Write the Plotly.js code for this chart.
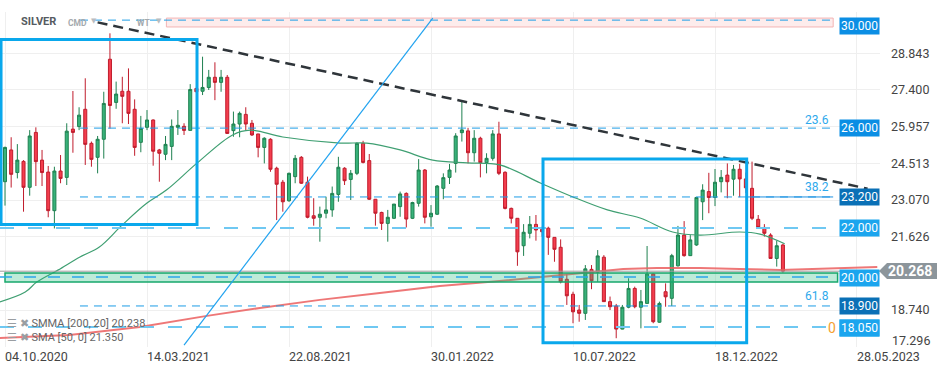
<!DOCTYPE html>
<html><head><meta charset="utf-8">
<script src="https://cdn.plot.ly/plotly-3.0.1.min.js"></script>
<style>body{margin:0;background:#fff}#chart{width:949px;height:370px}</style>
</head><body><div id="chart"></div>
<script>
// ---------- DATA (weekly SILVER candles, first week 04.10.2020) ----------
const firstWeek = '2020-10-04';
const openV = [23.79,25.04,24.15,24.59,23.57,25.73,24.64,24.17,22.65,24.21,23.96,25.86,25.96,26.64,25.30,24.75,25.46,28.61,26.91,27.35,
27.35,26.64,25.34,25.93,26.22,25.04,24.87,25.18,25.93,25.97,25.81,27.46,27.35,27.50,27.90,27.70,27.90,25.80,26.06,26.44,
26.09,25.67,25.14,25.46,24.32,23.77,23.04,23.99,24.75,23.77,22.45,22.39,22.55,22.68,23.29,24.32,23.88,24.12,25.30,24.62,
23.10,22.58,22.15,22.35,22.81,23.33,22.35,22.94,24.25,22.41,22.51,23.53,23.96,24.51,25.72,25.79,24.93,25.50,24.54,24.71,
25.67,24.16,22.74,22.35,21.27,21.76,22.11,21.92,21.96,21.60,21.21,19.95,19.36,18.74,18.61,20.34,20.23,20.82,19.07,18.90,
17.99,18.85,19.59,18.85,19.00,20.16,18.26,19.46,19.20,20.48,21.69,20.88,21.30,23.00,23.40,23.17,23.79,24.05,23.89,24.28,
23.90,23.53,22.31,21.99,21.69,20.77,21.30];
const highV = [25.17,25.54,25.27,24.64,25.82,25.93,25.04,24.41,24.38,24.84,26.09,27.36,26.72,27.86,25.37,25.59,27.33,29.63,27.73,27.92,
28.25,27.03,26.38,26.61,26.24,25.08,25.59,26.24,26.61,26.09,27.63,27.53,28.71,28.19,28.49,28.19,27.99,26.55,26.55,26.72,
26.22,25.67,25.54,25.50,24.38,23.86,24.15,24.84,24.80,23.99,23.14,22.81,23.20,23.60,24.77,24.36,24.25,25.34,25.40,24.88,
23.11,22.61,22.68,22.91,23.40,23.37,23.00,24.68,24.29,22.87,23.66,24.12,24.49,25.70,26.94,25.91,25.82,25.56,24.91,25.82,
26.15,24.20,22.77,22.35,22.12,22.44,22.48,22.02,22.02,21.60,21.52,20.16,19.46,18.94,20.51,20.51,21.10,20.90,19.27,18.98,
18.94,19.99,19.66,19.53,21.26,20.18,19.07,19.79,20.95,22.05,22.24,21.69,23.17,23.69,24.14,24.29,24.25,24.51,24.45,24.49,
24.15,24.58,22.48,22.12,21.76,21.47,21.35];
const lowV = [22.85,23.56,23.92,22.61,23.24,23.62,23.62,22.39,21.95,23.73,23.66,24.93,25.82,24.45,24.38,24.12,24.70,25.88,26.66,26.09,
26.06,24.81,24.95,25.82,24.42,23.79,24.64,24.64,25.63,25.63,25.81,27.32,27.20,27.40,27.00,27.33,25.67,25.56,25.54,25.82,
25.59,24.75,24.51,24.18,22.28,22.61,23.00,23.73,23.70,22.35,22.06,21.43,22.35,22.41,23.00,23.66,23.07,24.05,24.51,23.07,
22.06,21.89,21.43,22.32,22.41,21.99,22.32,22.81,22.15,22.02,22.48,23.10,23.70,24.15,25.37,24.51,24.58,23.96,24.12,24.62,
24.05,22.70,22.15,20.48,20.87,21.56,21.47,21.63,20.91,20.64,19.79,18.94,18.22,18.28,18.35,19.56,19.85,19.07,18.74,17.63,
17.98,18.81,18.81,18.02,19.00,18.22,18.24,18.87,18.90,20.45,20.84,20.87,21.27,22.28,22.55,22.83,23.37,23.14,23.24,23.18,
23.35,22.28,21.95,21.63,20.77,20.45,20.21];
const closeV = [25.14,24.08,24.64,23.57,25.59,24.58,24.15,22.65,24.21,23.92,25.78,25.73,26.41,25.26,24.67,25.46,26.87,26.79,27.24,27.15,
26.48,25.14,25.89,26.22,24.99,24.91,25.26,25.97,26.01,25.81,27.42,27.33,27.50,27.90,27.70,27.90,25.69,26.06,26.48,26.06,
25.63,25.14,25.50,24.28,23.69,23.00,24.12,24.71,23.73,22.39,22.35,22.51,22.68,23.33,24.36,23.83,24.12,25.30,24.55,23.10,
22.55,22.15,22.39,22.91,23.31,22.32,22.97,24.25,22.39,22.55,23.62,23.95,24.25,25.59,25.83,24.93,25.50,24.54,24.71,25.67,
24.12,22.74,22.35,21.03,21.80,22.11,21.89,21.82,21.60,21.13,19.85,19.30,18.67,18.61,20.36,19.89,20.87,19.07,18.87,17.99,
18.85,19.59,18.87,19.07,20.16,18.28,19.00,19.26,20.88,21.69,20.88,21.50,23.17,23.46,23.17,23.77,23.96,23.79,24.28,23.90,
23.55,22.35,21.99,21.76,20.77,21.27,20.27];

// SMA [50, 0] (green)
const smaDates  = ['2020-09-28','2020-10-27','2020-11-09','2020-12-03','2020-12-28','2021-01-19','2021-02-14','2021-03-14','2021-04-05','2021-05-10','2021-06-19','2021-07-09','2021-08-15','2021-10-19','2021-11-18','2021-12-26','2022-02-01','2022-03-12','2022-04-18','2022-06-03','2022-07-10','2022-08-18','2022-09-24','2022-10-31','2022-12-01','2023-01-15','2023-02-07','2023-03-07'];
const smaValues = [19.06,19.45,19.84,20.31,20.83,21.22,22.09,22.95,23.46,24.53,25.63,25.82,25.55,25.31,25.31,25.04,24.64,24.53,24.45,23.74,23.19,22.68,22.36,21.81,21.69,21.81,21.73,21.35];
// SMMA [200, 20] (red)
const smmaDates  = ['2020-09-28','2020-12-16','2021-03-06','2021-05-21','2021-07-20','2021-09-26','2021-12-03','2022-02-09','2022-04-18','2022-06-03','2022-07-18','2022-09-05','2022-10-13','2022-12-01','2023-01-15','2023-03-02','2023-06-20'];
const smmaValues = [17.64,17.76,18.07,18.51,18.82,19.14,19.41,19.69,19.88,20.04,20.20,20.35,20.39,20.39,20.35,20.32,20.43];

// price levels drawn on the chart
const levelText   = ['30.000','26.000','23.200','22.000','20.000','18.900','18.050'];
const levelValue  = [30.15, 25.90, 23.19, 21.97, 20.04, 18.90, 18.07];
const levelLabelY = [29.92, 25.90, 23.19, 21.97, 20.00, 18.90, 18.05];
const fibText  = ['23.6','38.2','61.8'];
const fibY     = [26.22, 23.58, 19.29];
const lastPrice = 20.268;
const yTickVals = [17.296,18.740,20.183,21.626,23.070,24.513,25.957,27.400,28.843];
const xTickVals = ['2020-10-04','2021-03-14','2021-08-22','2022-01-30','2022-07-10','2022-12-18','2023-05-28'];

// ---------- BUILD ----------
function weekDates(start, n){
  const out=[]; const d=new Date(start+'T00:00:00Z');
  for(let i=0;i<n;i++){ const t=new Date(d.getTime()+i*7*86400000); out.push(t.toISOString().slice(0,10)); }
  return out;
}
const dates = weekDates(firstWeek, openV.length);

const W=949,H=370, L=0,R=69,T=12,B=23;
const PW=W-L-R, PH=H-T-B;
const px = x => (x-L)/PW;        // pixel -> paper x
const py = y => (H-B-y)/PH;      // pixel -> paper y

const traces = [
 {type:'candlestick', x:dates, open:openV, high:highV, low:lowV, close:closeV,
  increasing:{line:{color:'#1f8150',width:1}, fillcolor:'#38b27a'},
  decreasing:{line:{color:'#c01c2c',width:1}, fillcolor:'#f43e4e'},
  whiskerwidth:0, hoverinfo:'skip', showlegend:false},
 {type:'scatter', mode:'lines', x:smmaDates, y:smmaValues, line:{color:'rgba(235,95,95,0.85)',width:2}, hoverinfo:'skip', showlegend:false},
 {type:'scatter', mode:'lines', x:smaDates, y:smaValues, line:{color:'#3f9f72',width:1.2, shape:'spline'}, hoverinfo:'skip', showlegend:false}
];

const xStart='2020-09-28 08:00', xEnd='2023-06-23 02:00';
const lvlEnd='2023-05-01';
const shapes = [];
// pink band at 30
shapes.push({type:'rect',xref:'x',yref:'y',x0:'2021-04-05',x1:lvlEnd,y0:29.88,y1:30.23,fillcolor:'#fdecec',line:{color:'#f3b4b4',width:1},layer:'above'});
// green zone
shapes.push({type:'rect',xref:'x',yref:'y',x0:'2020-10-04',x1:'2023-05-06',y0:19.84,y1:20.20,fillcolor:'rgba(40,190,130,0.30)',line:{color:'#17a86c',width:1.5},layer:'above'});
// last price line
shapes.push({type:'line',xref:'x',yref:'y',x0:xStart,x1:xEnd,y0:lastPrice,y1:lastPrice,line:{color:'#9c9c9c',width:1},layer:'above'});
// level lines
const lvlStyle = [
 {x0:'2020-12-28',c:'#1d9de6',w:1,d:'8px,6px'},
 {x0:'2020-12-28',c:'#1d9de6',w:1,d:'8px,6px'},
 {x0:'2020-12-28',c:'#1d9de6',w:1,d:'8px,6px'},
 {x0:xStart,c:'#6fc8f2',w:2,d:'14px,14px'},
 {x0:xStart,c:'#2aa6ea',w:1.3,d:'12px,12px'},
 {x0:'2020-12-28',c:'#1d9de6',w:1,d:'8px,6px'},
 {x0:xStart,c:'#6fc8f2',w:2,d:'14px,14px'}];
levelValue.forEach((v,i)=>{
  const s=lvlStyle[i];
  shapes.push({type:'line',xref:'x',yref:'y',x0:s.x0,x1:lvlEnd,y0:v,y1:v,line:{color:s.c,width:s.w,dash:s.d},layer:'above'});
});
shapes.push({type:'line',xref:'x',yref:'y',x0:'2023-01-22',x1:lvlEnd,y0:levelValue[2],y1:levelValue[2],line:{color:'#1d8fe0',width:1},layer:'above'});
// trend line (dashed black)
shapes.push({type:'line',xref:'x',yref:'y',x0:'2021-01-17',y0:30.06,x1:'2023-06-09',y1:23.515,line:{color:'#2f353a',width:2.5,dash:'10px,6px'},layer:'above'});
// rising blue line
shapes.push({type:'line',xref:'x',yref:'y',x0:'2021-04-25',y0:17.36,x1:'2022-02-01',y1:30.23,line:{color:'#22a3ef',width:1.2},layer:'above'});
// blue boxes
shapes.push({type:'rect',xref:'x',yref:'y',x0:'2020-09-29 12:00',x1:'2021-05-09 17:00',y0:22.11,y1:29.39,line:{color:'#0aa8ec',width:3},layer:'above'});
shapes.push({type:'rect',xref:'x',yref:'y',x0:'2022-06-06',x1:'2023-01-22 22:00',y0:17.45,y1:24.68,line:{color:'#0aa8ec',width:3},layer:'above'});
// grey last-price tag
shapes.push({type:'path',xref:'paper',yref:'paper',path:`M ${px(879)} ${py(271)} L ${px(887)} ${py(263)} L ${px(937)} ${py(263)} L ${px(937)} ${py(279)} L ${px(887)} ${py(279)} Z`,fillcolor:'#8c959b',line:{width:0},layer:'above'});

const annotations = [];
const labelBg = ['#0b8ee4','#0b8ee4','#0a70b6','#1ba5ee','#1ba5ee','#0a70b6','#1ba5ee'];
levelText.forEach((t,i)=>{
  annotations.push({xref:'paper',yref:'y',x:1,y:levelLabelY[i],xanchor:'right',yanchor:'middle',text:t,showarrow:false,
    bgcolor:labelBg[i],borderpad:1,font:{family:'Roboto',size:12,color:'#ffffff'}});
});
fibText.forEach((t,i)=>{
  annotations.push({xref:'paper',yref:'y',x:px(831),y:fibY[i],xanchor:'right',yanchor:'middle',text:t,showarrow:false,font:{family:'Roboto',size:12,color:'#2ea9ec'}});
});
annotations.push({xref:'paper',yref:'y',x:px(826),y:18.05,xanchor:'left',yanchor:'middle',text:'0',showarrow:false,font:{family:'Roboto',size:14,color:'#f5a030'}});
// re-draw 18.050 label above the orange text
annotations.push({xref:'paper',yref:'y',x:1,y:18.05,xanchor:'right',yanchor:'middle',text:'18.050',showarrow:false,bgcolor:'#1ba5ee',borderpad:1,font:{family:'Roboto',size:12,color:'#ffffff'}});
annotations.push({xref:'paper',yref:'paper',x:px(910),y:py(271),xanchor:'center',yanchor:'middle',text:'<b>'+lastPrice.toFixed(3)+'</b>',showarrow:false,font:{family:'Roboto',size:14,color:'#ffffff'}});
annotations.push({xref:'paper',yref:'paper',x:px(890),y:py(340),xanchor:'left',yanchor:'middle',text:'17.296',showarrow:false,font:{family:'Roboto',size:12.5,color:'#444'}});
// header
annotations.push({xref:'paper',yref:'paper',x:px(19),y:py(22),xanchor:'left',yanchor:'middle',text:'<b>SILVER</b>',showarrow:false,font:{family:'Roboto',size:11,color:'#555b61'}});
annotations.push({xref:'paper',yref:'paper',x:px(66),y:py(23),xanchor:'left',yanchor:'middle',text:'<b>CMD</b>',showarrow:false,font:{family:'Roboto',size:8.5,color:'#a4a9ad'}});
annotations.push({xref:'paper',yref:'paper',x:px(89),y:py(21),xanchor:'left',yanchor:'middle',text:'▼',showarrow:false,font:{family:'DejaVu Sans',size:7,color:'#b8bcc0'}});
annotations.push({xref:'paper',yref:'paper',x:px(135),y:py(23),xanchor:'left',yanchor:'middle',text:'<b>WT</b>',showarrow:false,font:{family:'Roboto',size:8.5,color:'#a4a9ad'}});
annotations.push({xref:'paper',yref:'paper',x:px(154),y:py(21),xanchor:'left',yanchor:'middle',text:'▼',showarrow:false,font:{family:'DejaVu Sans',size:7,color:'#b8bcc0'}});
// indicator legend
annotations.push({xref:'paper',yref:'paper',x:px(5),y:py(323),xanchor:'left',yanchor:'middle',text:'<span style="color:#9a9ea2">☰ ✖</span> SMMA [200, 20] 20.238',showarrow:false,font:{family:'Roboto',size:11,color:'#666'}});
annotations.push({xref:'paper',yref:'paper',x:px(5),y:py(337),xanchor:'left',yanchor:'middle',text:'<span style="color:#9a9ea2">☰ ✖</span> SMA [50, 0] 21.350',showarrow:false,font:{family:'Roboto',size:11,color:'#666'}});

const layout = {
  width:W, height:H, margin:{l:L,r:R,t:T,b:B}, paper_bgcolor:'#fff', plot_bgcolor:'#fff',
  showlegend:false, hovermode:false,
  xaxis:{type:'date', range:[xStart,xEnd], tickvals:xTickVals, tickformat:'%d.%m.%Y', ticklabelposition:'outside right',
    showgrid:true, gridcolor:'#efefef', zeroline:false, showline:false, ticks:'', rangeslider:{visible:false},
    tickfont:{family:'Roboto',size:12.5,color:'#444'}},
  yaxis:{side:'right', range:[17.285,30.469], tickvals:yTickVals,
    ticktext:yTickVals.map(v=> (v===17.296||v===20.183)?'':v.toFixed(3)),
    showgrid:true, gridcolor:'#efefef', zeroline:false, showline:false, ticks:'', ticklabelstandoff:10,
    tickfont:{family:'Roboto',size:12.5,color:'#444'}},
  shapes:shapes, annotations:annotations
};
Plotly.newPlot('chart', traces, layout, {staticPlot:true, displayModeBar:false});
</script></body></html>
